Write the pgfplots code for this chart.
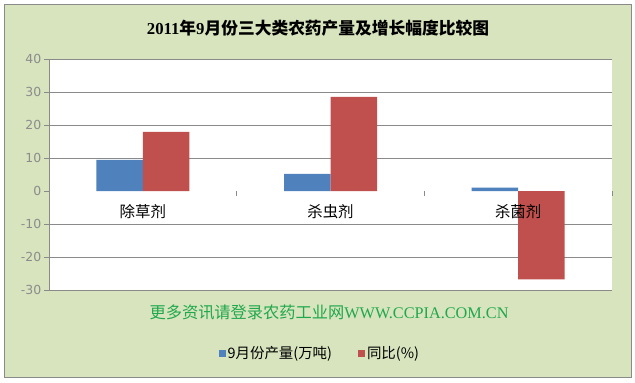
\documentclass[border=0pt]{standalone}
\usepackage{pgfplots}
\pgfplotsset{compat=1.18}
\usepackage{fontspec}
\setmainfont{Liberation Serif}
\newfontfamily\cjk{Noto Sans CJK SC}
\newfontfamily\dejavu{DejaVu Sans}
\definecolor{bgreen}{HTML}{D7E4BD}
\definecolor{xblue}{HTML}{4F81BD}
\definecolor{xred}{HTML}{C0504D}
\definecolor{tgray}{HTML}{8C8C8C}
\definecolor{ggray}{HTML}{8A8A8A}
\definecolor{wgreen}{HTML}{1FA84C}
\begin{document}
\begin{tikzpicture}[x=1bp,y=1bp]
\path (0,0) rectangle (635,382);
\fill[white] (0,0) rectangle (635,382);
\filldraw[fill=bgreen,draw=ggray,line width=0.8bp] (4.5,5) rectangle (631,378);
\node[font=\fontsize{16.8}{19}\selectfont] at (318,354)
  {\textbf{2011}{\cjk\bfseries 年}\textbf{9}{\cjk\bfseries 月份三大类农药产量及增长幅度比较图}};
\begin{axis}[
  at={(49bp,92bp)}, anchor=south west,
  scale only axis, width=563bp, height=231bp,
  xmin=-0.5, xmax=2.5, ymin=-30, ymax=40,
  axis background/.style={fill=white},
  axis x line=middle, axis y line=left,
  x axis line style={draw=none,-},
  y axis line style={draw=ggray,-,line width=0.8bp},
  hide obscured x ticks=false, hide obscured y ticks=false,
  xtick={0.5,1.5,2.5}, xticklabels={},
  ytick={-30,-20,-10,10,20,30,40},
  extra y ticks={0}, extra y tick style={grid=none},
  ymajorgrids, major grid style={draw=ggray,line width=0.8bp},
  tick align=outside, major tick length=5bp,
  tick style={draw=ggray,line width=0.8bp},
  /pgf/number format/assume math mode=true,
  yticklabel style={font=\dejavu\fontsize{12.5}{14}\selectfont, text=tgray, inner sep=2.5bp},
  ybar=0pt, bar width=46.5bp,
  clip=false,
  legend style={at={(0.481,-0.273)}, anchor=center, draw=none, fill=none,
    font=\cjk\fontsize{14.5}{17}\selectfont, legend columns=2,
    /tikz/every even column/.append style={column sep=24bp}},
]
\addplot[draw=none, fill=xblue,
  legend image code/.code={\fill[xblue] (0bp,-3.5bp) rectangle (7bp,3.5bp);}]
  coordinates {(0,9.4) (1,5.2) (2,1.0)};
\addplot[draw=none, fill=xred,
  legend image code/.code={\fill[xred] (0bp,-3.5bp) rectangle (7bp,3.5bp);}]
  coordinates {(0,17.9) (1,28.5) (2,-26.8)};
\legend{9月份产量(万吨),同比(\%)}
\node[font=\cjk\fontsize{15.5}{18}\selectfont] at (axis cs:0,0) [yshift=-21bp] {除草剂};
\node[font=\cjk\fontsize{15.5}{18}\selectfont] at (axis cs:1,0) [yshift=-21bp] {杀虫剂};
\node[font=\cjk\fontsize{15.5}{18}\selectfont] at (axis cs:2,0) [yshift=-21bp] {杀菌剂};
\end{axis}
\node[font=\fontsize{16.3}{19}\selectfont, text=wgreen] at (329,70)
  {{\cjk 更多资讯请登录农药工业网}WWW.CCPIA.COM.CN};
\end{tikzpicture}
\end{document}
